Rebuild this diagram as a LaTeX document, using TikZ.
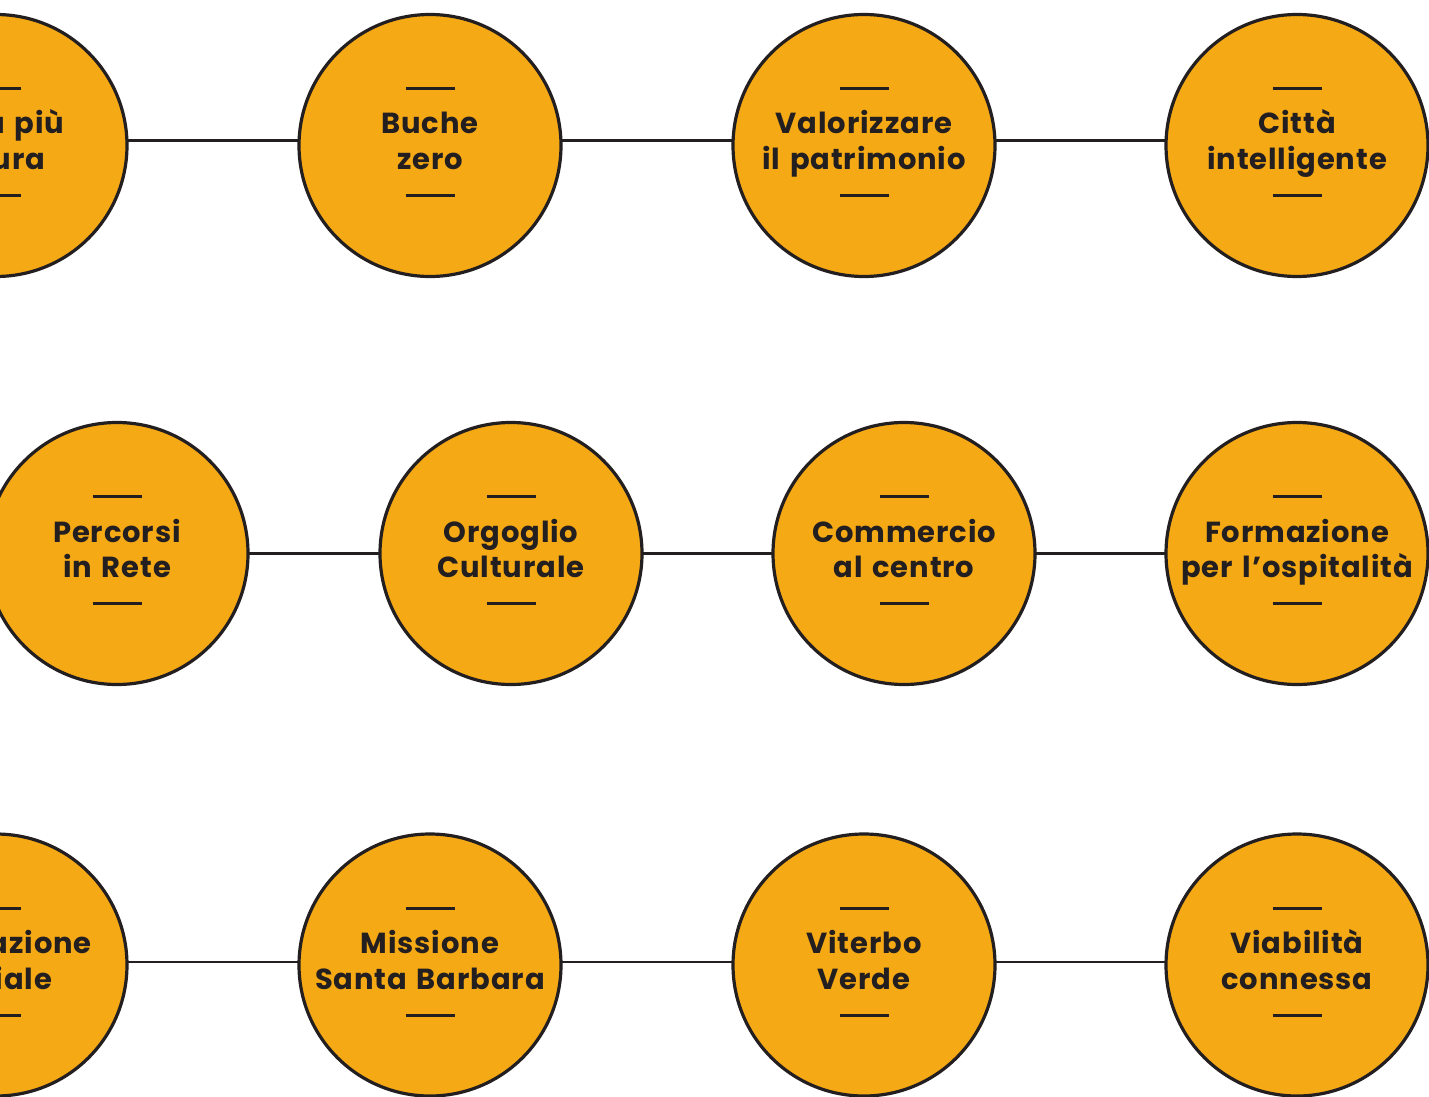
\documentclass[tikz,border=0pt]{standalone}
\usepackage{fontspec}
\setmainfont{Poppins}[LetterSpace=3,WordSpace=1.4]
\usetikzlibrary{backgrounds}
\definecolor{disc}{HTML}{F5A915}
\definecolor{ink}{HTML}{231F20}
\tikzset{
  circ/.style={circle, draw=ink, fill=disc, line width=3.2pt, minimum size=262pt, inner sep=0pt},
  bar/.style={draw=ink, line width=3pt},
  link/.style={draw=ink, line width=2.6pt},
  lbl/.style={anchor=base, inner sep=0pt, text=ink, font=\fontsize{29}{35}\selectfont\bfseries}
}
\newcommand\mycirc[5]{%
  \node[circ] (#1) at (#2,#3) {};
  \draw[bar] (#2-24.5,#3-57) -- (#2+24.5,#3-57);
  \draw[bar] (#2-24.5,#3+50) -- (#2+24.5,#3+50);
  \node[lbl] (#1a) at (#2,#3-11.5) {#4};
  \node[lbl] (#1b) at (#2,#3+24) {#5};
}
\begin{document}
\begin{tikzpicture}[x=1pt,y=-1pt]
\useasboundingbox (0,0) rectangle (1429,1097);
\clip (0,0) rectangle (1429,1097);
% row 1
\mycirc{a1}{-4}{145.5}{Città più}{sicura}
\mycirc{a2}{430}{145.5}{Buche}{zero}
\mycirc{a3}{864}{145.5}{Valorizzare}{il patrimonio}
\mycirc{a4}{1297}{145.5}{Città}{intelligente}
% row 2
\mycirc{b1}{117}{553.5}{Percorsi}{in Rete}
\mycirc{b2}{511}{553.5}{Orgoglio}{Culturale}
\mycirc{b3}{904}{553.5}{Commercio}{al centro}
\mycirc{b4}{1297}{553.5}{Formazione}{per l’ospitalità}
% row 3
\mycirc{c1}{-4}{965}{Innovazione}{sociale}
\mycirc{c2}{430}{965}{Missione}{Santa Barbara}
\mycirc{c3}{864}{965}{Viterbo}{Verde}
\mycirc{c4}{1297}{965}{Viabilità}{connessa}
\begin{scope}[on background layer]
  \draw[link] ([yshift=5pt]a1.center) -- ([yshift=5pt]a2.center);
  \draw[link] ([yshift=5pt]a2.center) -- ([yshift=5pt]a3.center);
  \draw[link] ([yshift=5pt]a3.center) -- ([yshift=5pt]a4.center);
  \draw[link] (b1.center) -- (b2.center);
  \draw[link] (b2.center) -- (b3.center);
  \draw[link] (b3.center) -- (b4.center);
  \draw[link] ([yshift=3pt]c1.center) -- ([yshift=3pt]c2.center);
  \draw[link] ([yshift=3pt]c2.center) -- ([yshift=3pt]c3.center);
  \draw[link] ([yshift=3pt]c3.center) -- ([yshift=3pt]c4.center);
\end{scope}
\end{tikzpicture}
\end{document}
